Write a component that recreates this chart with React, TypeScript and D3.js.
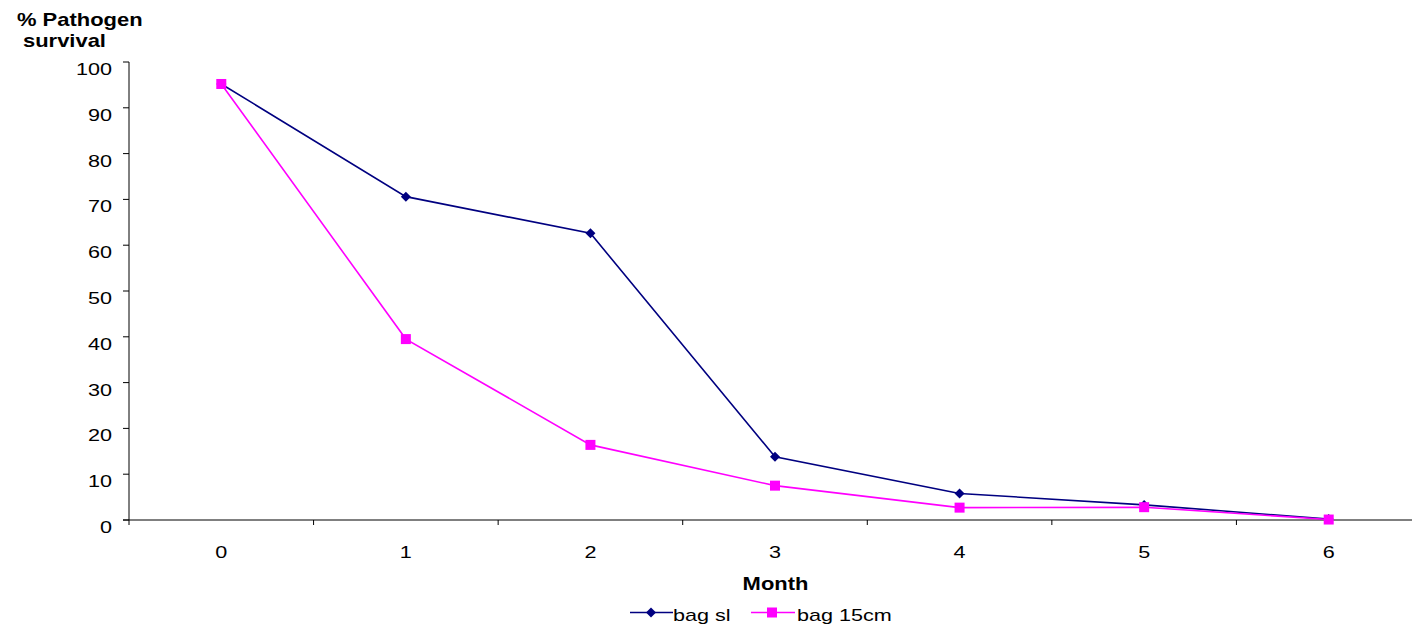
import React from "react";
import * as d3 from "d3";

const months = ["0", "1", "2", "3", "4", "5", "6"];
const bagSl = [95.2, 70.6, 62.6, 13.8, 5.8, 3.3, 0.2];
const bag15 = [95.2, 39.5, 16.4, 7.5, 2.7, 2.8, 0.1];
const yTicks = [0, 10, 20, 30, 40, 50, 60, 70, 80, 90, 100];

const W = 1412, H = 630;
const left = 129, right = 1421, top = 62, bottom = 520;
const FONT = "'Liberation Sans', Arial, sans-serif";
const BLUE = "#000080";
const PINK = "#FF00FF";

function T(props: { x: number; y: number; size: number; bold?: boolean; anchor?: string; children: React.ReactNode }) {
  const sx = props.bold ? 1.22 : 1.27;
  return (
    <text
      transform={`translate(${props.x},${props.y}) scale(${sx},1)`}
      fontSize={props.size}
      fontWeight={props.bold ? "bold" : "normal"}
      textAnchor={props.anchor || "start"}
      fill="#000"
    >
      {props.children}
    </text>
  );
}

const diamond = (cx: number, cy: number, r: number) =>
  `M${cx},${cy - r}L${cx + r},${cy}L${cx},${cy + r}L${cx - r},${cy}Z`;

export default function App() {
  const x = d3.scaleBand<string>().domain(months).range([left, right]).padding(0);
  const y = d3.scaleLinear().domain([0, 100]).range([bottom, top]);
  const cx = (m: string) => (x(m) as number) + x.bandwidth() / 2;
  const line = d3.line<number>().x((_, i) => cx(months[i])).y((d) => y(d));
  const boundaries = d3.range(months.length + 1).map((i) => left + i * x.bandwidth());

  return (
    <svg width={W} height={H} style={{ position: "absolute", left: 0, top: 0, background: "#fff" }} fontFamily={FONT}>
      <rect width={W} height={H} fill="#fff" />
      <T x={17} y={26} size={18} bold>% Pathogen</T>
      <T x={23} y={47} size={18} bold>survival</T>
      {/* y axis */}
      <line x1={left} x2={left} y1={top} y2={bottom} stroke="#000" strokeWidth={1} />
      {yTicks.map((t) => (
        <g key={t}>
          <line x1={left - 6} x2={left} y1={y(t)} y2={y(t)} stroke="#000" />
          <T x={112} y={y(t) + 13} size={17} anchor="end">{t}</T>
        </g>
      ))}
      {/* x axis */}
      <line x1={left - 6} x2={right} y1={bottom} y2={bottom} stroke="#000" />
      {boundaries.map((b, i) => (
        <line key={i} x1={b} x2={b} y1={bottom} y2={bottom + 5} stroke="#000" />
      ))}
      {months.map((m) => (
        <T key={m} x={cx(m)} y={558} size={17} anchor="middle">{m}</T>
      ))}
      <T x={775.5} y={590} size={18} bold anchor="middle">Month</T>
      {/* series */}
      <path d={line(bagSl) || ""} fill="none" stroke={BLUE} strokeWidth={1.6} />
      {bagSl.map((v, i) => (
        <path key={i} d={diamond(cx(months[i]), y(v), 5)} fill={BLUE} />
      ))}
      <path d={line(bag15) || ""} fill="none" stroke={PINK} strokeWidth={1.6} />
      {bag15.map((v, i) => (
        <rect key={i} x={cx(months[i]) - 5} y={y(v) - 5} width={10} height={10} fill={PINK} />
      ))}
      {/* legend */}
      <line x1={630} x2={673} y1={612.5} y2={612.5} stroke={BLUE} strokeWidth={1.6} />
      <path d={diamond(651, 612.5, 5)} fill={BLUE} />
      <T x={673} y={621} size={17}>bag sl</T>
      <line x1={751} x2={795} y1={612.5} y2={612.5} stroke={PINK} strokeWidth={1.6} />
      <rect x={767} y={607.5} width={10} height={10} fill={PINK} />
      <T x={797} y={621} size={17}>bag 15cm</T>
    </svg>
  );
}
